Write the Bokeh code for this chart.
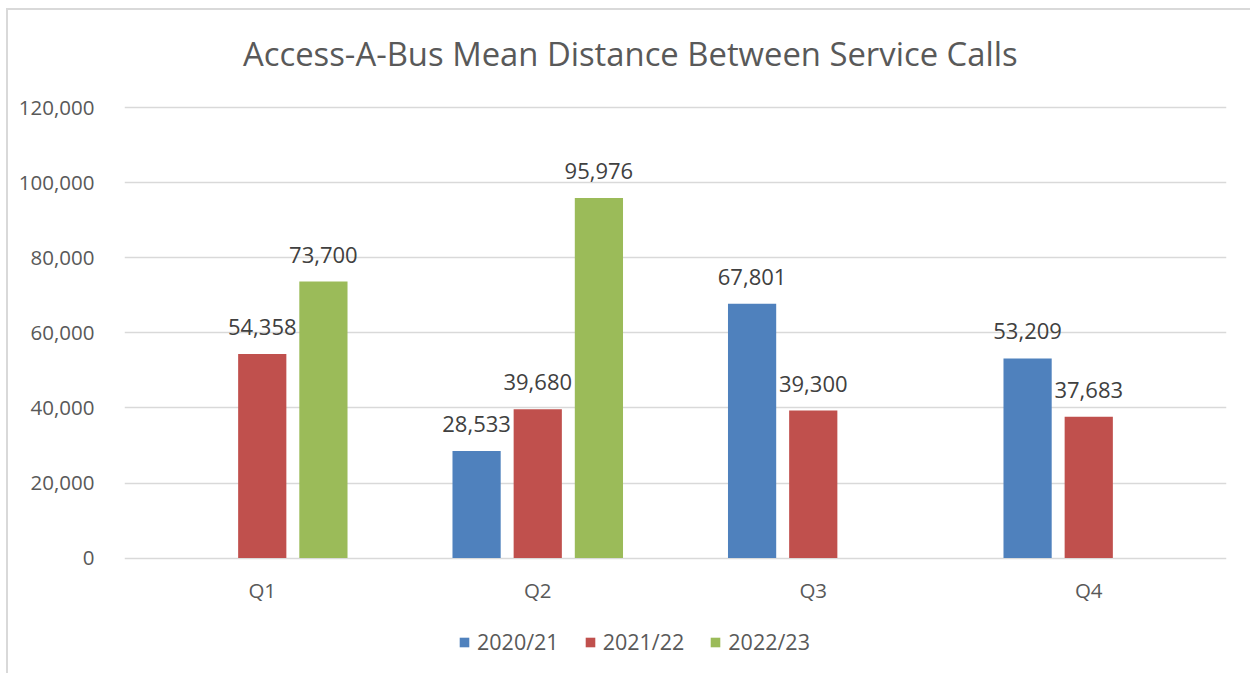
from bokeh.plotting import figure
from bokeh.models import (ColumnDataSource, FactorRange, Range1d, LabelSet, Label,
                          Legend, LegendItem, NumeralTickFormatter, FixedTicker)
from bokeh.transform import dodge
from bokeh.core.properties import value
from bokeh.embed import file_html
from bokeh.resources import INLINE
import math

title = "Access-A-Bus Mean Distance Between Service Calls"
quarters = ["Q1", "Q2", "Q3", "Q4"]
series_names = ["2020/21", "2021/22", "2022/23"]
v_2020_21 = [math.nan, 28533, 67801, 53209]
v_2021_22 = [54358, 39680, 39300, 37683]
v_2022_23 = [73700, 95976, math.nan, math.nan]
colors = ["#4F81BD", "#C0504D", "#9BBB59"]
y_ticks = [0, 20000, 40000, 60000, 80000, 100000, 120000]

FONT = "Open Sans"
W, H = 1244, 665
# frame extended above/below the value area so the title and legend sit inside it
Y_TOP, Y_BOTTOM = 143255, -29960
p = figure(x_range=FactorRange(*quarters, range_padding=0), y_range=Range1d(Y_BOTTOM, Y_TOP),
           width=W, height=H, output_backend="svg", toolbar_location=None,
           x_axis_location=None,
           min_border_left=116, min_border_right=26, min_border_top=10, min_border_bottom=5)
p.styles = {"border-left": "2px solid #d9d9d9", "border-top": "2px solid #d9d9d9",
            "box-sizing": "border-box", "margin-left": "6px", "margin-top": "8px"}
p.outline_line_color = None
p.background_fill_color = "white"
p.border_fill_color = "white"

p.xgrid.grid_line_color = None
p.ygrid.grid_line_color = "#d9d9d9"
p.ygrid.grid_line_width = 1.5
p.yaxis.ticker = FixedTicker(ticks=y_ticks)
p.yaxis.formatter = NumeralTickFormatter(format="0,0")
p.yaxis.axis_line_color = None
p.yaxis.major_tick_line_color = None
p.yaxis.minor_tick_line_color = None
p.yaxis.major_label_text_font = FONT
p.yaxis.major_label_text_font_size = "20.5px"
p.yaxis.major_label_text_color = "#595959"
p.yaxis.major_label_standoff = 24

# category labels under the zero line
qsrc = ColumnDataSource(dict(q=quarters, y=[0] * len(quarters)))
p.add_layout(LabelSet(x="q", y="y", text="q", source=qsrc, y_offset=-32,
                      text_align="center", text_baseline="middle",
                      text_font=value(FONT), text_font_size="20.5px", text_color="#595959"))

offsets = [-0.222, 0.0, 0.222]
items = []
for name, vals, col, off in zip(series_names, [v_2020_21, v_2021_22, v_2022_23], colors, offsets):
    labels = ["" if math.isnan(v) else f"{int(v):,}" for v in vals]
    src = ColumnDataSource(dict(q=quarters, v=vals, lab=labels))
    r = p.vbar(x=dodge("q", off, range=p.x_range), top="v", width=0.175, source=src,
               fill_color=col, line_color=None)
    items.append(LegendItem(label=name, renderers=[r]))
    ls = LabelSet(x=dodge("q", off, range=p.x_range), y="v", text="lab", source=src,
                  text_align="center", text_baseline="alphabetic", y_offset=19,
                  text_font=value(FONT), text_font_size="22px", text_color="#404040")
    p.add_layout(ls)

legend = Legend(items=items, orientation="horizontal", location=(334, 14),
                padding=0, margin=0, border_line_color=None, background_fill_alpha=0,
                glyph_width=12, glyph_height=12, label_standoff=7, spacing=25,
                label_text_font=FONT, label_text_font_size="21.5px", label_text_color="#595959")
p.add_layout(legend, "center")

p.add_layout(Label(x=1.836, y=134400, text=title, text_align="center", text_baseline="middle",
                   text_font=FONT, text_font_size="32.8px", text_color="#595959"))

open("out.html", "w").write(file_html(p, INLINE))
